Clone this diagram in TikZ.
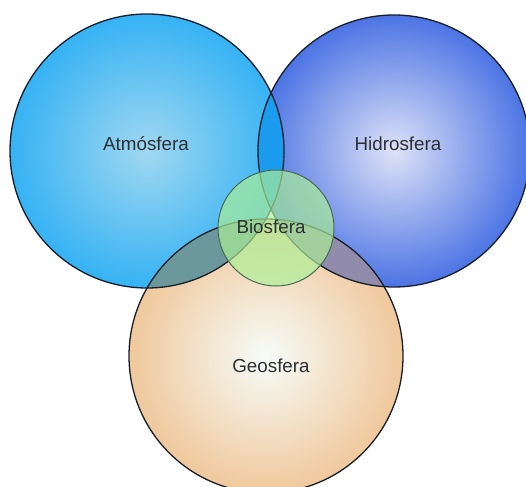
\documentclass[tikz,border=0pt]{standalone}
\usepackage{fontspec}
\setmainfont{Liberation Sans}
\definecolor{atmE}{RGB}{54,178,244}
\definecolor{atmC}{RGB}{160,216,240}
\definecolor{hidE}{RGB}{76,116,228}
\definecolor{hidC}{RGB}{222,226,247}
\definecolor{geoE}{RGB}{240,200,156}
\definecolor{geoC}{RGB}{246,252,249}
\definecolor{lensAH}{RGB}{28,156,238}
\definecolor{lensAG}{RGB}{108,152,156}
\definecolor{lensHG}{RGB}{146,140,172}
\definecolor{bioF}{RGB}{172,240,150}
\definecolor{rim}{RGB}{22,30,42}
\definecolor{bioRim}{RGB}{70,105,85}
\definecolor{txt}{RGB}{44,48,52}
\begin{document}
\begin{tikzpicture}[x=1pt,y=-1pt,
  rimline/.style={draw=rim,line width=1.3pt},
  lbl/.style={text=txt,font=\fontsize{18.8}{22}\selectfont,anchor=base,inner sep=0pt}]
\useasboundingbox (0,0) rectangle (526,486);
\clip (0,0) rectangle (526,486);
\fill[white] (0,0) rectangle (526,486);
\coordinate (atm) at (147,151);
\coordinate (hid) at (394,151);
\coordinate (geo) at (266,356);
\coordinate (bio) at (276,228);
% main spheres
\shade[inner color=atmC,outer color=atmE] (atm) circle[radius=137];
\shade[inner color=hidC,outer color=hidE] (hid) circle[radius=136];
\shade[inner color=geoC,outer color=geoE] (geo) circle[radius=137];
% overlaps
\begin{scope}
  \clip (atm) circle[radius=137];
  \fill[lensAH] (hid) circle[radius=136];
  \fill[lensAG] (geo) circle[radius=137];
\end{scope}
\begin{scope}
  \clip (hid) circle[radius=136];
  \fill[lensHG] (geo) circle[radius=137];
\end{scope}
% outlines
\draw[rimline] (atm) circle[radius=137];
\draw[rimline] (hid) circle[radius=136];
\draw[rimline] (geo) circle[radius=137];
% biosphere
\fill[bioF,fill opacity=0.68] (bio) circle[radius=58];
\draw[bioRim,line width=1pt] (bio) circle[radius=58];
% labels
\node[lbl] (tAtm) at (146,150.5) {Atmósfera};
\node[lbl] (tHid) at (398,150.5) {Hidrosfera};
\node[lbl] (tBio) at (271,233) {Biosfera};
\node[lbl] (tGeo) at (271,372) {Geosfera};
\end{tikzpicture}
\end{document}
